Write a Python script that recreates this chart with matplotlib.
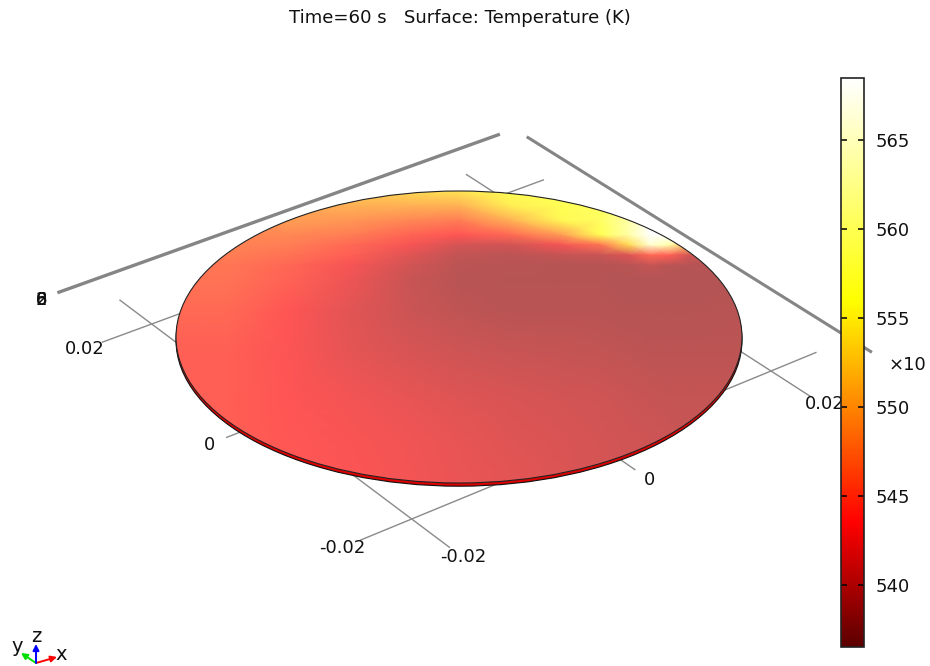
import numpy as np
import matplotlib
matplotlib.use("Agg")
import matplotlib.pyplot as plt
from matplotlib.cm import ScalarMappable
from matplotlib.colors import LinearSegmentedColormap, Normalize
from matplotlib.patches import Ellipse

title = "Time=60 s   Surface: Temperature (K)"

# colour scale
t_min, t_max = 536.5, 568.5
bar_ticks = [540, 545, 550, 555, 560, 565]

u_nodes = [-1.0, -0.81, -0.6, -0.385, -0.17, 0.0, 0.18, 0.36, 0.5, 0.6, 0.675, 0.745, 0.815, 1.0]
v_nodes = [1.0, 0.9, 0.8, 0.7, 0.63, 0.56, 0.49, 0.39, 0.18, -0.09, -0.43, -0.7, -1.0]
temps = [
    [545, 546, 547.5, 549, 550, 550.5, 552.5, 555, 557, 560, 566, 568, 566, 542],
    [545, 546, 547.5, 548, 548, 548, 551, 554, 556.5, 560, 566, 568, 566, 542],
    [545, 546, 547.2, 546.8, 546, 545.5, 548, 551.5, 556.5, 560, 566, 568, 566, 542],
    [545, 546, 546, 545.5, 544.3, 543.6, 544.5, 547, 554.5, 560, 568, 568, 565, 541.5],
    [545, 545.8, 545.5, 544.5, 543.2, 541.7, 541.6, 543, 545, 550, 562, 560, 548, 541],
    [545, 545.5, 545, 544, 542.2, 540.9, 540.7, 541, 541.2, 542, 544.5, 544, 541.5, 540.5],
    [545, 545.2, 544.4, 543.2, 541.5, 540.7, 540.5, 540.4, 540.4, 540.5, 541, 540.6, 540.4, 540.4],
    [545, 545, 544.2, 542.8, 541.2, 540.5, 540.4, 540.4, 540.4, 540.3, 540.3, 540.3, 540.3, 540.4],
    [544.5, 544.5, 543.6, 542.3, 541.3, 540.8, 540.6, 540.5, 540.5, 540.4, 540.4, 540.4, 540.4, 540.5],
    [544, 544, 543.4, 542.4, 541.8, 541.4, 541.2, 541, 540.9, 540.8, 540.7, 540.7, 540.7, 540.7],
    [544, 544, 543.6, 543.1, 542.6, 542.2, 541.9, 541.7, 541.5, 541.3, 541.2, 541.1, 541, 541],
    [544, 544, 543.7, 543.3, 542.9, 542.6, 542.2, 541.9, 541.7, 541.6, 541.4, 541.3, 541.2, 541.1],
    [544, 544, 543.7, 543.4, 543, 542.7, 542.4, 542.1, 541.8, 541.6, 541.5, 541.4, 541.3, 541.2],
]

# grid lines in model coordinates
grid_ticks = [-0.02, 0, 0.02]
grid_end = 0.0254
z_labels = ["0", "2", "6", "8"]

# where four grid crossings land in the picture
world_pts = [(-0.02, 0.02), (-0.02, -0.02), (0.02, -0.02), (0.02, 0.02)]
pixel_pts = [(151.7, 324), (411.7, 519), (771, 371), (499.7, 196)]


def fit_view(world, pixel):
    rows, rhs = [], []
    for (x, y), (px, py) in zip(world, pixel):
        rows.append([x, y, 1, 0, 0, 0, -x * px, -y * px])
        rows.append([0, 0, 0, x, y, 1, -x * py, -y * py])
        rhs += [px, py]
    return np.append(np.linalg.solve(np.array(rows), np.array(rhs)), 1).reshape(3, 3)


view = fit_view(world_pts, pixel_pts)


def draw_line(ax, start, end, **kw):
    p = view @ np.array([[start[0], end[0]], [start[1], end[1]], [1.0, 1.0]])
    ax.plot(p[0] / p[2], p[1] / p[2], solid_capstyle="butt", **kw)


bar_cmap = LinearSegmentedColormap.from_list("heat", [
    (0.0, (0.36, 0, 0)),
    ((543.5 - t_min) / (t_max - t_min), (1, 0, 0)),
    ((556 - t_min) / (t_max - t_min), (1, 1, 0)),
    (1.0, (1, 1, 1)),
])
# the lit surface has the same ramp with some ambient green and blue on top
surf_cmap = LinearSegmentedColormap.from_list(
    "heat_lit",
    np.clip(bar_cmap(np.linspace(0, 1, 256))[:, :3] + [0, 0.33, 0.33], 0, 1),
)
norm = Normalize(t_min, t_max)

fig = plt.figure(figsize=(9.3, 6.66), dpi=100)
ax = fig.add_axes([0, 0, 1, 1])
ax.set_xlim(0, 930)
ax.set_ylim(666, 0)
ax.axis("off")

ax.text(459.5, 18, title, ha="center", va="center", fontsize=13.1, color="#111111")

for t in grid_ticks:
    draw_line(ax, (t, -grid_end), (t, grid_end), color="#8a8a8a", lw=1.0, zorder=1)
    draw_line(ax, (-grid_end, t), (grid_end, t), color="#8a8a8a", lw=1.0, zorder=1)

# thick box edges
draw_line(ax, (-0.0239, 0.0299), (0.0276, 0.0299), color="#858585", lw=2.4, zorder=1)
draw_line(ax, (0.0294, 0.0279), (0.0294, -0.023), color="#858585", lw=2.2, zorder=1)

# disk
cx, cy, a, b = 459, 337, 283, 146
ax.add_patch(Ellipse((cx, cy + 3.2), 2 * a, 2 * b, fc="#dc0000", ec="#111111", lw=0.8, zorder=2))
U, V = np.meshgrid(u_nodes, v_nodes)
mesh = ax.pcolormesh(cx + a * U, cy - b * V, np.array(temps), shading="gouraud",
                     cmap=surf_cmap, norm=norm, zorder=3)
rim = Ellipse((cx, cy), 2 * a, 2 * b, fc="none", ec="none", transform=ax.transData)
ax.add_patch(rim)
mesh.set_clip_path(rim)
ax.add_patch(Ellipse((cx, cy), 2 * a, 2 * b, fc="none", ec="#222222", lw=0.8, zorder=4))

# tick labels
for x, y, s in [(85, 349, "0.02"), (209, 445, "0"), (342, 548, "-0.02"),
                (463, 557, "-0.02"), (649, 480, "0"), (825, 404, "0.02")]:
    ax.text(x, y, s, ha="center", va="center", fontsize=13, color="#111111", zorder=5)
for s in z_labels:
    ax.text(41, 300, s, ha="center", va="center", fontsize=13, color="#111111", zorder=5)

# axis triad
origin = (36, 663)
for tip, col, lab, pos in [((57, 657), "red", "x", (61, 654)),
                           ((21, 653), "#00e000", "y", (17, 647)),
                           ((36, 644), "blue", "z", (36, 636))]:
    ax.annotate("", xy=tip, xytext=origin,
                arrowprops=dict(arrowstyle="-|>", color=col, lw=1.4, mutation_scale=9, shrinkA=0, shrinkB=0))
    ax.text(pos[0], pos[1], lab, ha="center", va="center", fontsize=14, color="#111111")

# colorbar
cax = fig.add_axes([841 / 930, 1 - 647 / 666, 23 / 930, 569 / 666])
cb = fig.colorbar(ScalarMappable(norm=norm, cmap=bar_cmap), cax=cax, ticks=bar_ticks)
cb.outline.set_linewidth(1.2)
cb.outline.set_edgecolor("#222222")
cax.tick_params(axis="y", which="major", direction="in", left=True, right=True, length=4, width=1.1,
                labelsize=13, pad=8, labelcolor="#111111")
ax.text(907, 365, "×10", ha="center", va="center", fontsize=13, color="#111111")

fig.savefig("out.png", dpi=100)
